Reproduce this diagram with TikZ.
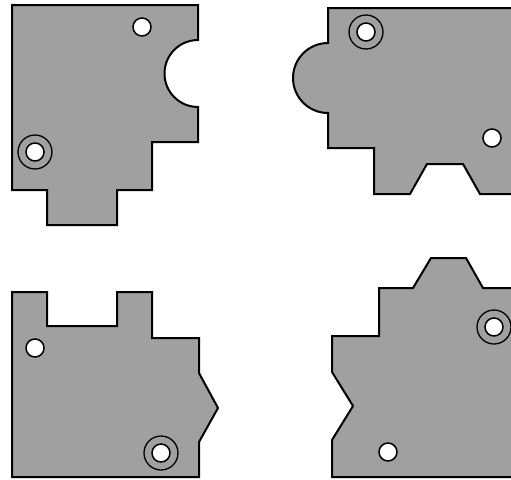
\documentclass[tikz,border=0pt]{standalone}
\definecolor{partgray}{RGB}{160, 160, 160}
\usepackage{tikz}

\begin{document}
\begin{tikzpicture}[
        x=1pt, y=-1pt,
        piece/.style={draw=black, fill=partgray, line width=2pt, line join=miter},
        hole/.style={draw=black, fill=white, line width=1.5pt},
        ring/.style={draw=black, line width=1.3pt}
    ]
        \useasboundingbox (0,0) rectangle (511,479);
        \clip (0,0) rectangle (511,479);

        % top left part, notch on the right
        \path[piece] (12,5) -- (198,5) -- (198,40)
            arc[start angle=90, end angle=270, radius=33.5pt]
            -- (198,142) -- (152,142) -- (152,190) -- (117,190) -- (117,225)
            -- (47,225) -- (47,190) -- (12,190) -- cycle;
        \path[hole] (142,27) circle[radius=9pt];
        \path[ring] (35,152) circle[radius=17pt];
        \path[hole] (35,152) circle[radius=9pt];

        % top right part, tab on the left
        \path[piece] (328,8) -- (530,8) -- (530,194) -- (480,194) -- (463,164)
            -- (427,164) -- (410,194) -- (374,194) -- (374,148) -- (328,148)
            -- (328,113) arc[start angle=270, end angle=90, radius=35pt]
            -- cycle;
        \path[ring] (366,32) circle[radius=17pt];
        \path[hole] (366,32) circle[radius=9pt];
        \path[hole] (492,138) circle[radius=9pt];

        % bottom left part, point on the right
        \path[piece] (12,292) -- (47,292) -- (47,326) -- (117,326) -- (117,292)
            -- (152,292) -- (152,338) -- (199,338) -- (199,373) -- (218,408)
            -- (199,442) -- (199,477) -- (12,477) -- cycle;
        \path[hole] (35,348) circle[radius=9pt];
        \path[ring] (161,453) circle[radius=17pt];
        \path[hole] (161,453) circle[radius=9pt];

        % bottom right part, notch on the left
        \path[piece] (431,258) -- (466,258) -- (483,288) -- (530,288)
            -- (530,477) -- (332,477) -- (332,440) -- (353,406) -- (332,372)
            -- (332,336) -- (379,336) -- (379,288) -- (413,288) -- cycle;
        \path[ring] (494,327) circle[radius=17pt];
        \path[hole] (494,327) circle[radius=9pt];
        \path[hole] (388,452) circle[radius=9pt];
    \end{tikzpicture}
\end{document}
